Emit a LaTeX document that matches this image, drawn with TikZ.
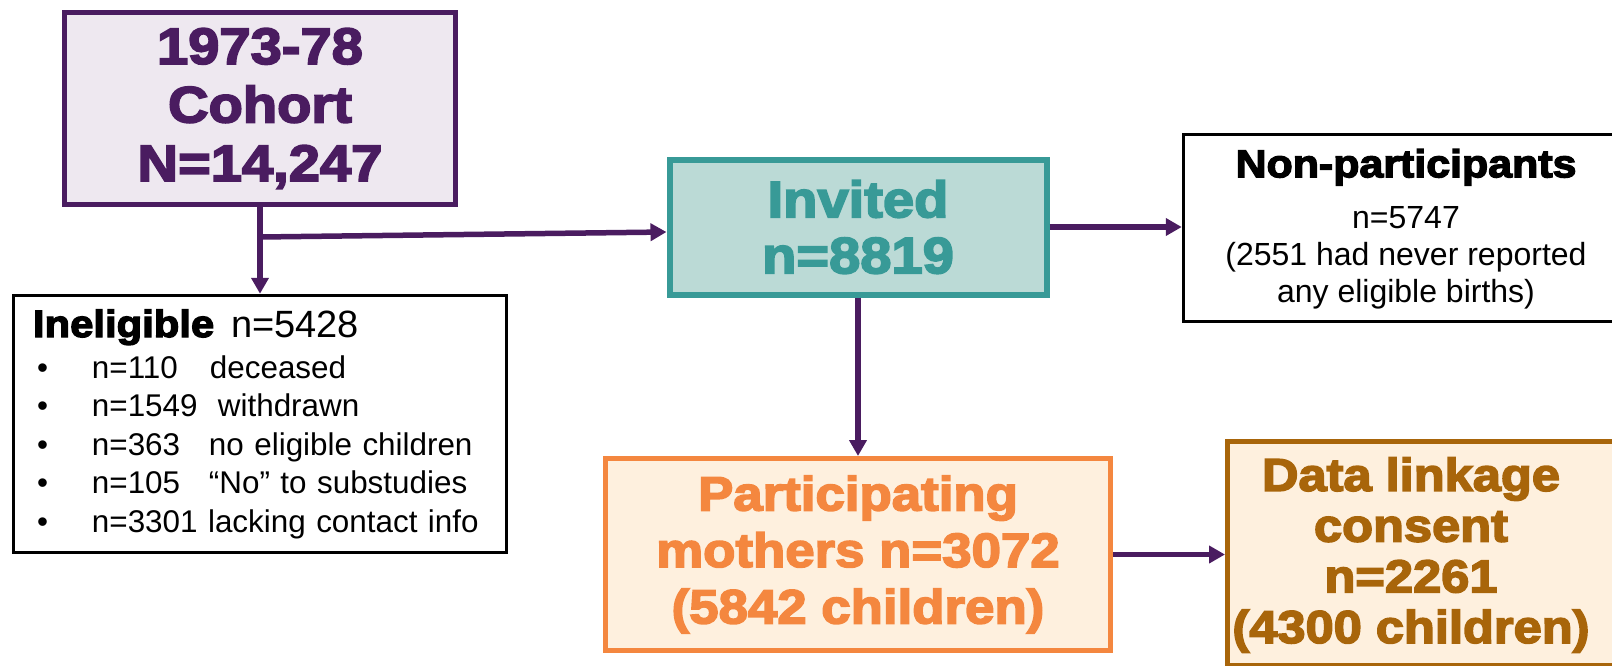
\documentclass[tikz,border=0pt]{standalone}
\usepackage{fontspec}
\setmainfont{Liberation Sans}
\newfontfamily\heavy{Liberation Sans}[BoldFeatures={FakeStretch=1.1,FakeBold=3.5}]
\usetikzlibrary{arrows.meta}
\definecolor{purp}{HTML}{4A1C60}
\definecolor{purpfill}{HTML}{EEE8F0}
\definecolor{teal2}{HTML}{389A97}
\definecolor{tealfill}{HTML}{BBDAD6}
\definecolor{orng}{HTML}{F4873F}
\definecolor{cream}{HTML}{FEF0DE}
\definecolor{brwn}{HTML}{A8650A}
\newcommand\hv{\heavy\bfseries}
\newcommand\bitem[3]{\hspace*{4pt}\makebox[55pt][l]{•}\makebox[#2pt][l]{#1}#3}
\begin{document}
\begin{tikzpicture}[x=1pt,y=-1pt,
  box/.style={rectangle, inner sep=0pt, align=center},
  arr/.style={draw=purp, line width=5.5pt, -{Triangle[length=16pt,width=17pt]}}
]
\useasboundingbox (0,0) rectangle (1612,665);
\node[box, draw=purp, fill=purpfill, line width=5pt, minimum width=391pt, minimum height=192pt, text=purp, font=\hv\fontsize{51}{58.5}\selectfont] (cohort) at (260,108.5) {1973-78\\Cohort\\N=14,247};
\node[box, draw=black, line width=3.5pt, minimum width=493pt, minimum height=257pt, text width=454pt, align=left, font=\fontsize{31.4}{38.5}\selectfont] (inel) at (260,424)
 {{\hv\fontsize{38}{38.5}\selectfont Ineligible}\hspace{17pt}{\fontsize{38}{38.5}\selectfont n=5428}\\[2.5pt]
  \bitem{n=110}{118}{deceased}\\
  \bitem{n=1549}{126}{withdrawn}\\
  \bitem{n=363}{117}{no eligible children}\\
  \bitem{n=105}{117}{“No” to substudies}\\
  \hspace*{4pt}\makebox[55pt][l]{•}n=3301 lacking contact info};
\node[box, draw=teal2, fill=tealfill, line width=6pt, minimum width=377pt, minimum height=135pt, text=teal2, font=\hv\fontsize{51}{56}\selectfont] (invited) at (858,227) {Invited\\n=8819};
\node[box, draw=black, line width=3.5pt, minimum width=500pt, minimum height=187pt] (nonpart) at (1433.5,228) {};
\node[align=center, inner sep=0pt, font=\fontsize{32}{36.7}\selectfont] (nptxt) at (1406,229)
 {{\hv\fontsize{39}{36.7}\selectfont Non-participants}\\[15pt]n=5747\\(2551 had never reported\\any eligible births)};
\node[box, draw=orng, fill=cream, line width=5pt, minimum width=505pt, minimum height=192pt, text=orng, font=\hv\fontsize{48}{56.5}\selectfont] (partic) at (858,554.5) {Participating\\mothers n=3072\\(5842 children)};
\node[box, draw=brwn, fill=cream, line width=5pt, minimum width=480pt, minimum height=223.5pt] (datal) at (1467.5,553.25) {};
\node[align=center, inner sep=0pt, text=brwn, font=\hv\fontsize{46}{50.7}\selectfont] (datatxt) at (1411,555) {Data linkage\\consent\\n=2261\\(4300 children)};
\path (cohort.south) ++(0,30) coordinate (br);
\draw[arr] (cohort.south) -- (cohort.south |- inel.north);
\draw[arr] (br) -- ([yshift=-5pt]invited.west);
\draw[arr] (invited.east) -- (invited.east -| nonpart.west);
\draw[arr] (invited.south) -- (invited.south |- partic.north);
\draw[arr] (partic.east) -- (partic.east -| datal.west);
\end{tikzpicture}
\end{document}
